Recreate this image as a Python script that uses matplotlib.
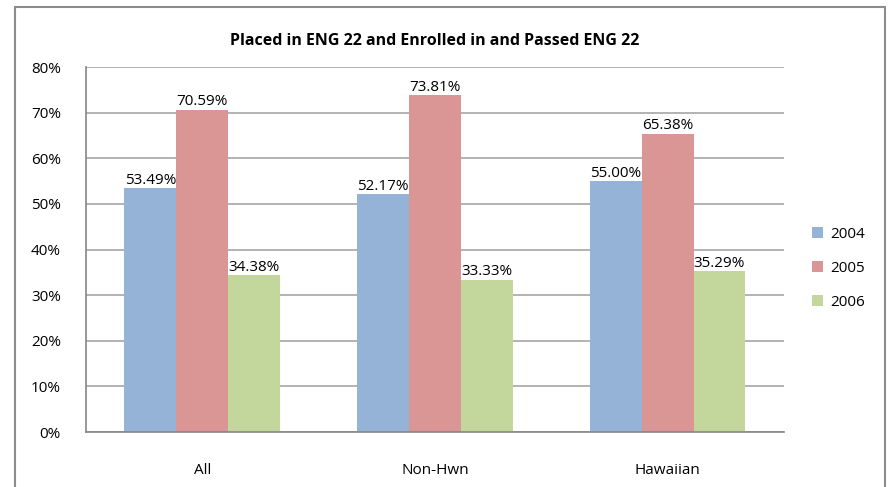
import matplotlib.pyplot as plt
from matplotlib.patches import Rectangle
import numpy as np

plt.rcParams['font.family'] = ['Open Sans', 'DejaVu Sans']

categories = ["All", "Non-Hwn", "Hawaiian"]
years = ["2004", "2005", "2006"]
v2004 = [53.49, 52.17, 55.00]
v2005 = [70.59, 73.81, 65.38]
v2006 = [34.38, 33.33, 35.29]
colors = ["#95B3D7", "#D99694", "#C3D69B"]

fig = plt.figure(figsize=(8.88, 4.87), dpi=100)
ax = fig.add_axes([0.0968, 0.1129, 0.786, 0.7495])

# outer chart frame
fig.patches.append(Rectangle((15 / 888, -0.05), 870 / 888, 1 - 7 / 487 + 0.05,
                             transform=fig.transFigure, fill=False,
                             edgecolor="#8c8c8c", linewidth=1.5))

fs = 11
x = np.arange(len(categories))
w = 0.223
for i, (vals, yr) in enumerate(zip([v2004, v2005, v2006], years)):
    bars = ax.bar(x + (i - 1) * w, vals, w, color=colors[i], label=yr, zorder=2)
    for b, v in zip(bars, vals):
        ax.text(b.get_x() + b.get_width() / 2, v + 0.1, "%.2f%%" % v,
                ha="center", va="bottom", fontsize=fs, zorder=3)

ax.set_xlim(-0.5, 2.5)
ax.set_ylim(0, 80)
ax.set_yticks(range(0, 81, 10))
ax.set_yticklabels(["%d%%" % t for t in range(0, 81, 10)], fontsize=fs)
ax.set_xticks(x)
ax.set_xticklabels(categories, fontsize=fs)
ax.tick_params(axis="x", length=0, pad=22)
ax.tick_params(axis="y", length=0, pad=18)
ax.yaxis.grid(True, color="#a6a6a6", linewidth=1.2, zorder=0)
for s in ["top", "right"]:
    ax.spines[s].set_visible(False)
for s in ["left", "bottom"]:
    ax.spines[s].set_color("#868686")
    ax.spines[s].set_linewidth(1.2)

ax.set_title("Placed in ENG 22 and Enrolled in and Passed ENG 22",
             fontsize=11.5, fontweight="bold", pad=16)

ax.legend(loc="center left", bbox_to_anchor=(1.02, 0.449), frameon=False,
          fontsize=fs, handlelength=0.75, handleheight=0.75, labelspacing=1.25,
          handletextpad=0.45)

fig.savefig("out.png", dpi=100)
